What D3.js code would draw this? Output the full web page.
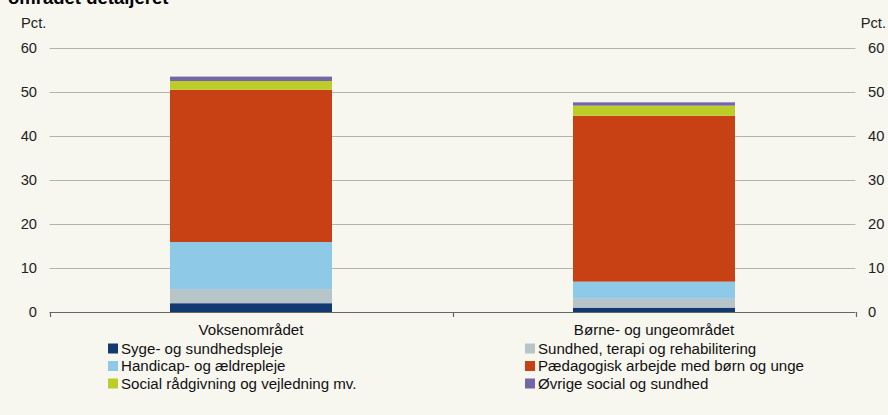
<!DOCTYPE html>
<html><head><meta charset="utf-8">
<script src="https://cdn.jsdelivr.net/npm/d3@7"></script>
<style>
body{margin:0;background:#f7f6ef;}
svg{display:block;font-family:"Liberation Sans",Arial,sans-serif;}
</style></head><body>
<svg id="c" width="888" height="415"></svg>
<script>
const categories = ["Voksenområdet", "Børne- og ungeområdet"];
const seriesNames = ["Syge- og sundhedspleje","Sundhed, terapi og rehabilitering","Handicap- og ældrepleje","Pædagogisk arbejde med børn og unge","Social rådgivning og vejledning mv.","Øvrige social og sundhed"];
const seriesColors = ["#123a72","#b8c5c8","#8ecae8","#c84114","#bccd2a","#7566aa"];
const values = [
  [2.0, 1.0],
  [3.2, 2.0],
  [10.7, 3.9],
  [34.6, 37.7],
  [2.0, 2.3],
  [1.0, 0.75]
];
const yTicks = [0,10,20,30,40,50,60];
const title = "området detaljeret";
const unit = "Pct.";

const svg = d3.select("#c");
const x0 = 49.5, x1 = 855.5;
const y = d3.scaleLinear().domain([0,60]).range([312,48]);
const x = d3.scaleBand().domain(categories).range([x0,x1]).paddingInner(0).paddingOuter(0);
const barW = 162;

svg.append("text").attr("x",8).attr("y",4).attr("font-weight","bold").attr("font-size",18.5).attr("fill","#000").text(title);

// gridlines
svg.append("g").selectAll("line").data(yTicks.filter(d=>d>0)).join("line")
  .attr("x1",x0).attr("x2",x1).attr("y1",d=>Math.round(y(d))+0.5).attr("y2",d=>Math.round(y(d))+0.5)
  .attr("stroke","#b4b4ac").attr("stroke-width",1.2);

// axis labels
const fs = 14.7, lfs = 15.1;
const yl = d3.axisLeft(y).tickValues(yTicks).tickSize(0).tickPadding(0);
const gl = svg.append("g").attr("transform","translate(37,0)").call(yl);
gl.select(".domain").remove();
gl.selectAll("text").attr("font-size",fs).attr("fill","#222").attr("font-family","Liberation Sans, Arial, sans-serif");
const yr = d3.axisRight(y).tickValues(yTicks).tickSize(0).tickPadding(0);
const gr = svg.append("g").attr("transform","translate(868,0)").call(yr);
gr.select(".domain").remove();
gr.selectAll("text").attr("font-size",fs).attr("fill","#222").attr("font-family","Liberation Sans, Arial, sans-serif");

svg.append("text").attr("x",21).attr("y",27.5).attr("font-size",fs).attr("fill","#222").text(unit);
svg.append("text").attr("x",886).attr("y",27.5).attr("text-anchor","end").attr("font-size",fs).attr("fill","#222").text(unit);

// stacked bars
const stackData = categories.map((c,i)=>{const o={cat:c}; seriesNames.forEach((s,j)=>o[s]=values[j][i]); return o;});
const stacked = d3.stack().keys(seriesNames)(stackData);
const gb = svg.append("g");
stacked.forEach((layer,j)=>{
  gb.selectAll(null).data(layer).join("rect")
    .attr("x",d=>x(d.data.cat)+x.bandwidth()/2-barW/2)
    .attr("width",barW)
    .attr("y",d=>y(d[1]))
    .attr("height",d=>y(d[0])-y(d[1]))
    .attr("fill",seriesColors[j]);
});

// x axis
svg.append("line").attr("x1",x0).attr("x2",x1).attr("y1",312.5).attr("y2",312.5).attr("stroke","#666").attr("stroke-width",1.2);
const bounds = [x0, x0 + x.bandwidth(), x1];
svg.append("g").selectAll("line").data(bounds).join("line")
  .attr("x1",d=>Math.round(d)+0.5).attr("x2",d=>Math.round(d)+0.5).attr("y1",312).attr("y2",317)
  .attr("stroke","#666").attr("stroke-width",1.2);
svg.append("g").selectAll("text").data(categories).join("text")
  .attr("x",d=>x(d)+x.bandwidth()/2).attr("y",335).attr("text-anchor","middle")
  .attr("font-size",lfs).attr("fill","#111").text(d=>d);

// legend
const legPos = [[108,353.5],[525,353.5],[108,371],[525,371],[108,388.5],[525,388.5]];
const lg = svg.append("g");
seriesNames.forEach((name,j)=>{
  const [lx,ly] = legPos[j];
  lg.append("rect").attr("x",lx).attr("y",ly-10).attr("width",10).attr("height",10).attr("fill",seriesColors[j]);
  lg.append("text").attr("x",lx+13).attr("y",ly).attr("font-size",lfs).attr("fill","#111").text(name);
});
</script>
</body></html>
